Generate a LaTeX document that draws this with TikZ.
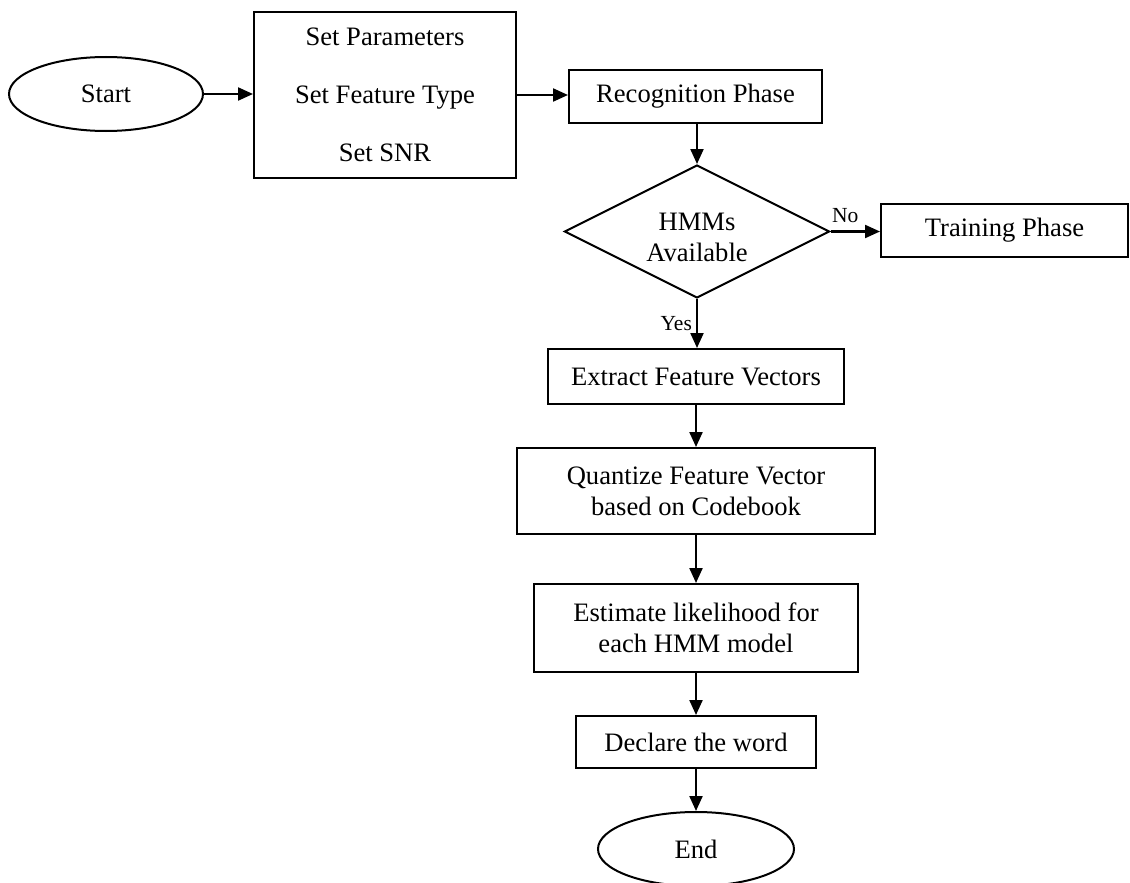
\documentclass[tikz,border=0pt]{standalone}
\usepackage{fontspec}
\setmainfont{Liberation Serif}
\usetikzlibrary{shapes.geometric,arrows.meta}

\begin{document}
\begin{tikzpicture}[x=1pt,y=-1pt,
  every node/.style={font=\fontsize{26.6}{31}\selectfont, inner sep=0pt, align=center},
  box/.style={draw, line width=2pt, rectangle},
  oval/.style={draw, line width=2pt, ellipse},
  decision/.style={draw, line width=2pt, diamond},
  arr/.style={line width=2.2pt, -{Triangle[length=15pt,width=13pt]}},
  tag/.style={font=\fontsize{21.5}{24}\selectfont}
]
\useasboundingbox (0,0) rectangle (1130,883);

% main flow nodes
\node[oval, minimum width=194pt, minimum height=74pt] (start) at (106,94) {Start};
\node[box, minimum width=262pt, minimum height=166pt,
      font=\fontsize{26.6}{58}\selectfont] (params) at (385,95)
      {Set Parameters\\Set Feature Type\\Set SNR};
\node[box, minimum width=253pt, minimum height=53pt] (recog) at (695.5,96.5) {Recognition Phase};
\node[decision, minimum width=265pt, minimum height=133pt] (dec) at (697,231.5) {};
\node (declbl) at (697,237) {HMMs\\Available};
\node[box, minimum width=247pt, minimum height=53pt] (train) at (1004.5,230.5) {Training Phase};
\node[box, minimum width=296pt, minimum height=55pt] (extract) at (696,376.5) {Extract Feature Vectors};
\node[box, minimum width=358pt, minimum height=86pt] (quant) at (696,491) {Quantize Feature Vector\\based on Codebook};
\node[box, minimum width=324pt, minimum height=88pt] (est) at (696,628) {Estimate likelihood for\\each HMM model};
\node[box, minimum width=240pt, minimum height=52pt] (declare) at (696,742) {Declare the word};
\node[oval, minimum width=196pt, minimum height=74pt] (end) at (696,849) {End};

% connectors
\draw[arr] (start.east) -- (start.east -| params.west);
\draw[arr] (params.east |- 0,95) -- (recog.west |- 0,95);
\draw[arr] (recog.south -| dec.north) -- (dec.north);
\draw[arr] (dec.east) -- (dec.east -| train.west)
  node[tag, pos=0.3, above=8pt] (nolbl) {No};
\draw[arr] (dec.south) -- (dec.south |- extract.north)
  node[tag, pos=0.5, left=4pt] (yeslbl) {Yes};
\draw[arr] (extract.south -| quant.north) -- (quant.north);
\draw[arr] (quant.south) -- (est.north);
\draw[arr] (est.south) -- (declare.north);
\draw[arr] (declare.south) -- (end.north);
\end{tikzpicture}
\end{document}
